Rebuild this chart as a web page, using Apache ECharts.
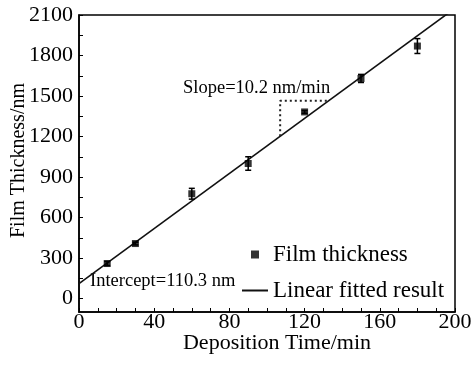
<!DOCTYPE html>
<html>
<head>
<meta charset="utf-8">
<script src="https://cdn.jsdelivr.net/npm/echarts@6/dist/echarts.min.js"></script>
<style>
  html, body {margin: 0; padding: 0; background: #fff;}
  #chart {width: 476px; height: 378px;}
</style>
</head>
<body>
<div id="chart"></div>
<script>
const times = [15, 30, 60, 90, 120, 150, 180];
const thickness = [259, 407, 776, 1000, 1382, 1630, 1870];
const errors = [15, 10, 40, 50, 10, 30, 55];
const fitX = [0, 200];
const fitY = [110.3, 2150.3];
const slopeX = [107, 107, 133];
const slopeY = [1202, 1464, 1464];
const xTicks = [0, 40, 80, 120, 160, 200];
const yLabels = [0, 300, 600, 900, 1200, 1500, 1800, 2100];
const yTicks = [0, 150, 300, 450, 600, 750, 900, 1050, 1200, 1350, 1500, 1650, 1800, 1950, 2100];

const font = 'Liberation Serif, Times New Roman, serif';
const chart = echarts.init(document.getElementById('chart'));

const option = {
  animation: false,
  backgroundColor: '#fff',
  grid: {
    left: 79,
    right: 21,
    top: 15,
    bottom: 66,
    outerBoundsMode: 'none',
    containLabel: false,
    show: true,
    borderColor: '#000',
    borderWidth: 1.5,
  },
  legend: [
    {
      data: [{name: 'Film thickness', icon: 'path://M0,0L10,0L10,10L0,10Z'}],
      left: 251,
      top: 242,
      padding: 0,
      itemWidth: 26,
      itemHeight: 8,
      textStyle: {fontFamily: font, fontSize: 23, color: '#000', lineHeight: 25},
    },
    {
      data: [{name: 'Linear fitted result', icon: 'rect'}],
      left: 242,
      top: 278,
      padding: 0,
      itemWidth: 26,
      itemHeight: 2,
      itemStyle: {color: '#111'},
      textStyle: {fontFamily: font, fontSize: 23, color: '#000', lineHeight: 25},
    },
  ],
  xAxis: {
    type: 'value',
    min: 0,
    max: 200,
    interval: 40,
    name: 'Deposition Time/min',
    nameLocation: 'middle',
    nameGap: 20,
    nameMoveOverlap: false,
    nameTextStyle: {fontFamily: font, fontSize: 22, color: '#000', padding: [0, 0, 0, 20]},
    axisLine: {onZero: false, lineStyle: {color: '#000', width: 1.5}},
    axisTick: {inside: true, length: 4, lineStyle: {color: '#000'}},
    minorTick: {show: true, splitNumber: 4, length: 4, lineStyle: {color: '#000'}},
    axisLabel: {fontFamily: font, fontSize: 22, color: '#000', margin: -1, customValues: xTicks, formatter: v => String(v)},
    splitLine: {show: false},
  },
  yAxis: {
    type: 'value',
    min: -100,
    max: 2100,
    name: 'Film Thickness/nm',
    nameLocation: 'middle',
    nameGap: 50,
    nameMoveOverlap: false,
    nameTextStyle: {fontFamily: font, fontSize: 20, color: '#000', padding: [0, 0, 0, 6]},
    axisLine: {show: true, onZero: false, lineStyle: {color: '#000', width: 1.5}},
    axisTick: {show: true, inside: true, length: 4, customValues: yTicks, lineStyle: {color: '#000'}},
    axisLabel: {fontFamily: font, fontSize: 22, color: '#000', margin: 6, customValues: yLabels, formatter: v => String(v)},
    splitLine: {show: false},
  },
  graphic: [
    {
      type: 'text',
      left: 183,
      top: 79,
      style: {text: 'Slope=10.2 nm/min', font: '18.5px ' + font, fill: '#000'},
    },
    {
      type: 'text',
      left: 90,
      top: 272,
      style: {text: 'Intercept=110.3 nm', font: '18.5px ' + font, fill: '#000'},
    },
  ],
  series: [
    {
      name: 'Linear fitted result',
      type: 'line',
      symbol: 'none',
      data: fitX.map((x, i) => [x, fitY[i]]),
      lineStyle: {color: '#111', width: 1.6},
      itemStyle: {color: '#111'},
      z: 2,
    },
    {
      name: 'slope',
      type: 'line',
      symbol: 'none',
      data: slopeX.map((x, i) => [x, slopeY[i]]),
      lineStyle: {color: '#222', width: 2, type: [2, 3]},
      z: 2,
    },
    {
      name: 'errors',
      type: 'custom',
      data: times.map((t, i) => [t, thickness[i] - errors[i], thickness[i] + errors[i]]),
      renderItem: (params, api) => {
        const lo = api.coord([api.value(0), api.value(1)]);
        const hi = api.coord([api.value(0), api.value(2)]);
        const w = 3;
        const style = {stroke: '#000', lineWidth: 1.5};
        return {
          type: 'group',
          children: [
            {type: 'line', shape: {x1: lo[0], y1: lo[1], x2: hi[0], y2: hi[1]}, style},
            {type: 'line', shape: {x1: lo[0] - w, y1: lo[1], x2: lo[0] + w, y2: lo[1]}, style},
            {type: 'line', shape: {x1: hi[0] - w, y1: hi[1], x2: hi[0] + w, y2: hi[1]}, style},
          ],
        };
      },
      z: 3,
    },
    {
      name: 'Film thickness',
      type: 'scatter',
      symbol: 'rect',
      symbolSize: 7,
      data: times.map((t, i) => [t, thickness[i]]),
      itemStyle: {color: '#000'},
      z: 4,
    },
  ],
};
chart.setOption(option);
</script>
</body>
</html>
